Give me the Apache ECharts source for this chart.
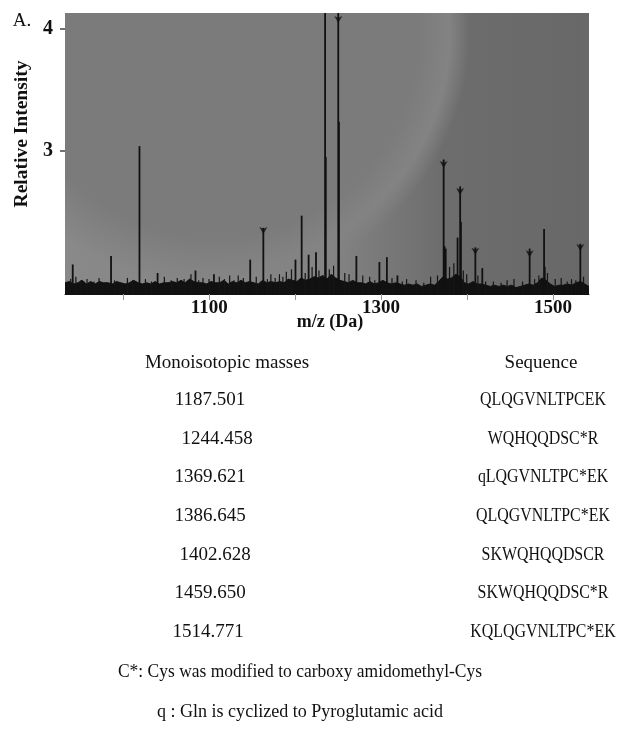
<!DOCTYPE html>
<html>
<head>
<meta charset="utf-8">
<script src="https://cdn.jsdelivr.net/npm/echarts@6/dist/echarts.min.js"></script>
<style>
html,body{margin:0;padding:0;background:#fff;}
#chart{width:644px;height:736px;}
</style>
</head>
<body>
<div id="chart"></div>
<script>
// ---- data ----
var xTickValues = [1000, 1100, 1200, 1300, 1400, 1500];
var xLabelValues = [1100, 1300, 1500];
var yTickValues = [3, 4];

var peakMz  = [941.0, 985.6, 1018.7, 1039.8, 1083.9, 1105.4, 1147.6, 1162.9, 1200.3, 1207.5, 1215.6, 1224.2, 1234.8, 1235.6, 1250.1, 1250.9, 1271.2, 1298.0, 1306.7, 1319.0, 1372.8, 1373.8, 1375.2, 1389.0, 1392.0, 1392.9, 1409.7, 1417.8, 1472.9, 1489.7, 1490.5, 1531.9];
var peakInt = [2.07, 2.14, 3.04, 2.00, 2.02, 1.99, 2.11, 2.37, 2.11, 2.47, 2.15, 2.17, 4.60, 2.95, 4.30, 3.24, 2.14, 2.09, 2.13, 1.98, 2.93, 2.22, 2.20, 2.29, 2.71, 2.42, 2.21, 2.04, 2.20, 2.36, 2.05, 2.24];

var minorMz  = [939, 945, 951, 958, 966, 972, 990, 1005, 1011, 1026, 1033, 1048, 1056, 1063, 1071, 1079, 1088, 1093, 1100, 1112, 1118, 1124, 1129, 1134, 1140, 1155, 1168, 1172, 1177, 1182, 1186, 1190, 1196, 1212, 1220, 1228, 1240, 1245, 1258, 1263, 1279, 1287, 1293, 1313, 1325, 1330, 1341, 1350, 1358, 1366, 1380, 1385, 1396, 1400, 1413, 1422, 1431, 1440, 1447, 1455, 1465, 1479, 1484, 1494, 1503, 1510, 1517, 1522, 1527, 1536];
var minorInt = [1.95, 1.97, 1.94, 1.95, 1.93, 1.96, 1.94, 1.96, 1.94, 1.95, 1.93, 1.97, 1.94, 1.96, 1.95, 1.99, 1.94, 1.96, 1.95, 1.97, 1.95, 1.98, 1.94, 1.98, 1.96, 1.97, 1.95, 1.99, 1.96, 1.99, 1.97, 2.01, 2.03, 2.00, 2.05, 2.02, 2.03, 2.06, 2.00, 1.99, 1.98, 1.97, 1.94, 1.96, 1.93, 1.95, 1.94, 1.92, 1.97, 1.98, 2.05, 2.08, 2.02, 1.99, 1.98, 1.93, 1.93, 1.92, 1.94, 1.95, 1.93, 1.95, 1.98, 2.00, 1.95, 1.96, 1.93, 1.95, 1.94, 1.97];

var noiseMz = [932,937,942,947,952,957,962,967,972,977,982,987,992,997,1002,1007,1012,1017,1022,1027,1032,1037,1042,1047,1052,1057,1062,1067,1072,1077,1082,1087,1092,1097,1102,1107,1112,1117,1122,1127,1132,1137,1142,1147,1152,1157,1162,1167,1172,1177,1182,1187,1192,1197,1202,1207,1212,1217,1222,1227,1232,1237,1242,1247,1252,1257,1262,1267,1272,1277,1282,1287,1292,1297,1302,1307,1312,1317,1322,1327,1332,1337,1342,1347,1352,1357,1362,1367,1372,1377,1382,1387,1392,1397,1402,1407,1412,1417,1422,1427,1432,1437,1442,1447,1452,1457,1462,1467,1472,1477,1482,1487,1492,1497,1502,1507,1512,1517,1522,1527,1532,1537,1542];
var noiseInt = [1.92,1.93,1.91,1.92,1.94,1.91,1.93,1.91,1.93,1.92,
                1.92,1.91,1.93,1.92,1.91,1.92,1.94,1.92,1.91,1.92,
                1.91,1.93,1.91,1.92,1.92,1.93,1.92,1.94,1.92,1.95,
                1.93,1.92,1.92,1.91,1.93,1.92,1.92,1.94,1.91,1.93,
                1.92,1.94,1.92,1.93,1.92,1.91,1.94,1.92,1.93,1.92,
                1.93,1.92,1.95,1.94,1.93,1.96,1.94,1.95,1.97,1.96,
                1.98,1.95,1.99,1.96,1.94,1.93,1.92,1.94,1.92,1.92,
                1.91,1.93,1.91,1.92,1.94,1.92,1.91,1.92,1.91,1.90,
                1.91,1.90,1.91,1.89,1.90,1.91,1.90,1.93,1.97,1.95,
                1.96,1.99,1.97,1.92,1.91,1.93,1.91,1.91,1.90,1.89,
                1.90,1.89,1.90,1.89,1.90,1.88,1.89,1.90,1.91,1.90,
                1.92,1.96,1.94,1.91,1.89,1.90,1.90,1.91,1.90,1.92,
                1.93,1.91,1.89];

var markerMz  = [1162.9, 1250.1, 1372.8, 1392.0, 1409.7, 1472.9, 1531.9];
var markerInt = [2.32, 4.05, 2.86, 2.64, 2.15, 2.13, 2.18];

var masses = ['1187.501', '1244.458', '1369.621', '1386.645', '1402.628', '1459.650', '1514.771'];
var sequences = ['QLQGVNLTPCEK', 'WQHQQDSC*R', 'qLQGVNLTPC*EK', 'QLQGVNLTPC*EK', 'SKWQHQQDSCR', 'SKWQHQQDSC*R', 'KQLQGVNLTPC*EK'];
var massOffsets = [0, 7, 0, 0, 5, 0, -2];
var footnotes = ['C*: Cys was modified to carboxy amidomethyl-Cys', 'q : Gln is cyclized to Pyroglutamic acid'];

// ---- build ----
function pairs(a, b) { return a.map(function (v, i) { return [v, b[i]]; }); }

var serif = '"Liberation Serif", "Times New Roman", serif';
var gridPos = { left: 65, right: 55, top: 13, bottom: 442 };

function txt(x, y, s, size, bold, extra) {
  var o = { type: 'text', x: x, y: y, style: { text: s, font: (bold ? 'bold ' : '') + size + 'px ' + serif, fill: '#111', textAlign: 'center', textVerticalAlign: 'middle' } };
  if (extra) Object.assign(o, extra);
  return o;
}
var graphics = [];
graphics.push(txt(22, 21, 'A.', 19, false));
graphics.push(txt(22, 134, 'Relative Intensity', 19.5, true, { rotation: Math.PI / 2 }));
graphics.push(txt(330, 322, 'm/z (Da)', 18, true));
graphics.push(txt(227, 363, 'Monoisotopic masses', 19, false));
graphics.push(txt(541, 363, 'Sequence', 19, false));
masses.forEach(function (m, i) {
  var y = 400 + i * 38.7;
  graphics.push(txt(210 + massOffsets[i], y, m, 19, false));
  graphics.push(txt(543, y, sequences[i], 18.5, false, { scaleX: 0.86 }));
});
graphics.push(txt(300, 672, footnotes[0], 19, false, { scaleX: 0.92 }));
graphics.push(txt(300, 712, footnotes[1], 19, false, { scaleX: 0.95 }));

var chart = echarts.init(document.getElementById('chart'), null, { renderer: 'canvas' });
chart.setOption({
  animation: false,
  backgroundColor: '#fff',
  grid: [
    Object.assign({ show: true, borderWidth: 0,
      backgroundColor: { type: 'linear', x: 0, y: 0, x2: 1, y2: 0, colorStops: [
        { offset: 0, color: '#898989' }, { offset: 0.5, color: '#848484' },
        { offset: 0.72, color: '#6d6d6d' }, { offset: 1, color: '#686868' }] } }, gridPos),
    Object.assign({ show: true, borderWidth: 0,
      backgroundColor: { type: 'radial', x: 0.286, y: 0.071, r: 0.907, colorStops: [
        { offset: 0, color: '#7b7b7b' }, { offset: 0.8, color: '#7b7b7b' },
        { offset: 0.92, color: '#838383' }, { offset: 1, color: 'rgba(131,131,131,0)' }] } }, gridPos)
  ],
  xAxis: [{
    gridIndex: 0, type: 'value', min: 932, max: 1542,
    axisLine: { show: true, lineStyle: { color: '#111', width: 1 } },
    axisTick: { show: true, length: 6, lineStyle: { color: '#999' }, customValues: xTickValues },
    axisLabel: { customValues: xLabelValues, margin: 5, fontFamily: serif, fontWeight: 'bold', fontSize: 19, color: '#111',
      formatter: function (v) { return String(v); } },
    splitLine: { show: false }
  }, {
    gridIndex: 1, type: 'value', min: 932, max: 1542, show: false
  }],
  yAxis: [{
    gridIndex: 0, type: 'value', min: 1.828, max: 4.131,
    axisLine: { show: false },
    axisTick: { show: true, length: 5, lineStyle: { color: '#444', width: 1.5 }, customValues: yTickValues },
    axisLabel: { customValues: yTickValues, margin: 12, fontFamily: serif, fontWeight: 'bold', fontSize: 20, color: '#111',
      formatter: function (v) { return String(v); } },
    splitLine: { show: false }
  }, {
    gridIndex: 1, type: 'value', min: 1.828, max: 4.131, show: false
  }],
  graphic: graphics,
  series: [
    { type: 'line', name: 'noise', data: pairs(noiseMz, noiseInt), symbol: 'none', silent: true,
      lineStyle: { color: '#111', width: 1 }, areaStyle: { color: '#111', opacity: 1, origin: 'start' }, z: 3 },
    { type: 'bar', name: 'minor', data: pairs(minorMz, minorInt), barWidth: 1.2, itemStyle: { color: '#151515' }, z: 4, silent: true },
    { type: 'bar', name: 'peaks', data: pairs(peakMz, peakInt), barWidth: 1.8, barGap: '-100%', itemStyle: { color: '#111' }, z: 5, silent: true },
    { type: 'scatter', name: 'marked', data: pairs(markerMz, markerInt), symbol: 'arrow', symbolRotate: 180, symbolSize: [6, 7],
      itemStyle: { color: '#111' }, z: 6, silent: true }
  ]
});
</script>
</body>
</html>
